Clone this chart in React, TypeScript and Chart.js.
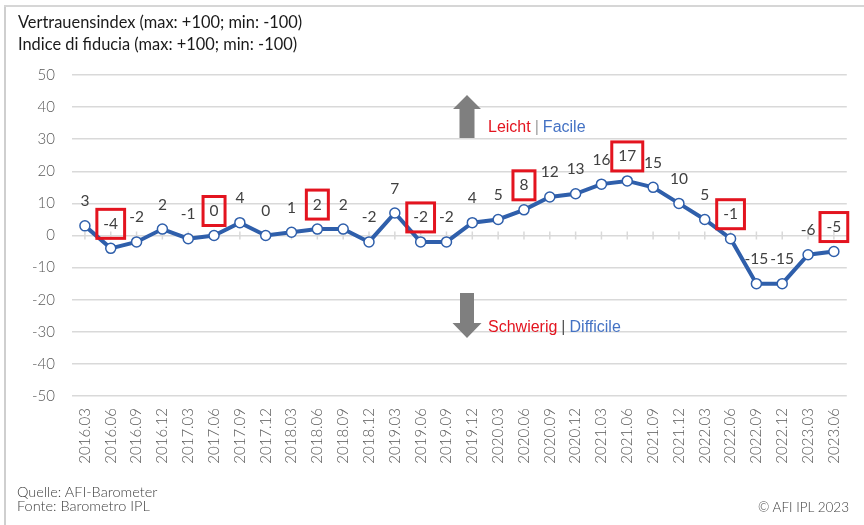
import React, { useEffect, useRef } from "react";
import { Chart, registerables } from "chart.js";

Chart.register(...registerables);

// ---------- data ----------
const categories = [
  "2016.03", "2016.06", "2016.09", "2016.12",
  "2017.03", "2017.06", "2017.09", "2017.12",
  "2018.03", "2018.06", "2018.09", "2018.12",
  "2019.03", "2019.06", "2019.09", "2019.12",
  "2020.03", "2020.06", "2020.09", "2020.12",
  "2021.03", "2021.06", "2021.09", "2021.12",
  "2022.03", "2022.06", "2022.09", "2022.12",
  "2023.03", "2023.06",
];
const confidenceIndex = [
  3, -4, -2, 2,
  -1, 0, 4, 0,
  1, 2, 2, -2,
  7, -2, -2, 4,
  5, 8, 12, 13,
  16, 17, 15, 10,
  5, -1, -15, -15,
  -6, -5,
];
const yMin = -50;
const yMax = 50;
const yStep = 10;
const titleLines = [
  "Vertrauensindex (max: +100; min: -100)",
  "Indice di fiducia (max: +100; min: -100)",
];
const sourceLines = ["Quelle: AFI-Barometer", "Fonte: Barometro IPL"];
const copyrightText = "© AFI IPL 2023";
const upLabels = ["Leicht", "Facile"];
const downLabels = ["Schwierig", "Difficile"];

// ---------- styles ----------
const LINE_BLUE = "#2f5fab";
const RED = "#e3141f";
const GRID = "#d9d9d9";
const TICK_COLOR = "#595959";
const LABEL_COLOR = "#404040";
const ARROW_GRAY = "#7f7f7f";
const FACILE_BLUE = "#4472c4";

const zeroTicksPlugin = {
  id: "zeroTicks",
  beforeDatasetsDraw(chart: any) {
    const { ctx, scales } = chart;
    const xs = scales.x;
    const y0 = scales.y.getPixelForValue(0);
    ctx.save();
    ctx.strokeStyle = GRID;
    ctx.lineWidth = 1.5;
    categories.forEach((_, i) => {
      const x = xs.getPixelForValue(i);
      ctx.beginPath();
      ctx.moveTo(x, y0 - 4);
      ctx.lineTo(x, y0 + 4);
      ctx.stroke();
    });
    ctx.restore();
  },
};

const arrowsPlugin = {
  id: "arrows",
  afterDraw(chart: any) {
    const { ctx } = chart;
    ctx.save();
    ctx.fillStyle = ARROW_GRAY;
    const cx = 467;
    // up arrow
    ctx.beginPath();
    ctx.moveTo(cx, 95);
    ctx.lineTo(cx + 14, 109);
    ctx.lineTo(cx + 7.5, 109);
    ctx.lineTo(cx + 7.5, 138);
    ctx.lineTo(cx - 7.5, 138);
    ctx.lineTo(cx - 7.5, 109);
    ctx.lineTo(cx - 14, 109);
    ctx.closePath();
    ctx.fill();
    // down arrow
    ctx.beginPath();
    ctx.moveTo(cx - 7, 293);
    ctx.lineTo(cx + 7, 293);
    ctx.lineTo(cx + 7, 323);
    ctx.lineTo(cx + 14.5, 323);
    ctx.lineTo(cx, 338);
    ctx.lineTo(cx - 14.5, 323);
    ctx.lineTo(cx - 7, 323);
    ctx.closePath();
    ctx.fill();
    ctx.restore();
  },
};

const valueLabelsPlugin = {
  id: "valueLabels",
  afterDatasetsDraw(chart: any) {
    const { ctx } = chart;
    const meta = chart.getDatasetMeta(0);
    ctx.save();
    ctx.font = "15.5px Lato, sans-serif";
    ctx.textAlign = "center";
    ctx.textBaseline = "middle";
    meta.data.forEach((pt: any, i: number) => {
      const text = String(confidenceIndex[i]);
      const x = pt.x;
      const y = pt.y - 24.5;
      ctx.fillStyle = LABEL_COLOR;
      ctx.fillText(text, x, y);
      if (categories[i].endsWith(".06")) {
        const w = ctx.measureText(text).width + 13;
        ctx.strokeStyle = RED;
        ctx.lineWidth = 3;
        ctx.strokeRect(x - w / 2, y - 14.5, w, 29);
      }
    });
    ctx.restore();
  },
};

export default function App() {
  const canvasRef = useRef<HTMLCanvasElement | null>(null);

  useEffect(() => {
    if (!canvasRef.current) return;
    const chart = new Chart(canvasRef.current, {
      type: "line",
      data: {
        labels: categories,
        datasets: [
          {
            data: confidenceIndex,
            borderColor: LINE_BLUE,
            borderWidth: 4,
            pointRadius: 5,
            pointBackgroundColor: "#ffffff",
            pointBorderColor: LINE_BLUE,
            pointBorderWidth: 1.5,
            tension: 0,
          },
        ],
      },
      options: {
        responsive: false,
        animation: false,
        devicePixelRatio: 1,
        layout: { padding: { left: 0, top: 75, right: 7, bottom: 0 } },
        plugins: {
          legend: { display: false },
          tooltip: { enabled: false },
          title: { display: false },
        },
        scales: {
          x: {
            type: "category",
            offset: true,
            grid: { display: false, drawTicks: false },
            border: { display: false },
            ticks: {
              autoSkip: false,
              maxRotation: 90,
              minRotation: 90,
              padding: 12,
              color: TICK_COLOR,
              font: { family: "Lato, sans-serif", size: 15, weight: 300 as any },
            },
            afterFit: (s: any) => {
              s.height = 129;
            },
          },
          y: {
            min: yMin,
            max: yMax,
            ticks: {
              stepSize: yStep,
              padding: 17,
              color: TICK_COLOR,
              font: { family: "Lato, sans-serif", size: 15, weight: 300 as any },
            },
            grid: { color: GRID, lineWidth: 1.5, drawTicks: false },
            border: { display: false },
            afterFit: (s: any) => {
              s.width = 72;
            },
          },
        },
      },
      plugins: [zeroTicksPlugin, valueLabelsPlugin, arrowsPlugin],
    });
    return () => chart.destroy();
  }, []);

  const abs = (extra: React.CSSProperties): React.CSSProperties => ({
    position: "absolute",
    whiteSpace: "nowrap",
    ...extra,
  });

  return (
    <div
      style={{
        position: "absolute",
        left: 0,
        top: 0,
        width: 864,
        height: 525,
        background: "#ffffff",
        overflow: "hidden",
      }}
    >
      <canvas ref={canvasRef} width={864} height={525} style={{ position: "absolute", left: 0, top: 0 }} />
      {/* frame */}
      <div style={abs({ left: 4, top: 5, width: 1.5, height: 520, background: "#cfcfcf" })} />
      <div style={abs({ left: 4, top: 5, width: 860, height: 1.5, background: "#d6d6d6" })} />
      {/* title */}
      <div
        style={abs({
          left: 18,
          top: 10.7,
          fontFamily: "Lato, sans-serif",
          fontSize: 16.4,
          lineHeight: "22px",
          color: "#1a1a1a",
        })}
      >
        {titleLines.map((t) => (
          <div key={t}>{t}</div>
        ))}
      </div>
      {/* arrow labels */}
      <div
        style={abs({
          left: 488,
          top: 116.5,
          fontFamily: "'Liberation Sans', Arial, sans-serif",
          fontSize: 16,
          lineHeight: "20px",
        })}
      >
        <span style={{ color: RED }}>{upLabels[0]}</span>
        <span style={{ color: "#a0a0a0", margin: "0 4px" }}>|</span>
        <span style={{ color: FACILE_BLUE }}>{upLabels[1]}</span>
      </div>
      <div
        style={abs({
          left: 488,
          top: 316.5,
          fontFamily: "'Liberation Sans', Arial, sans-serif",
          fontSize: 16,
          lineHeight: "20px",
        })}
      >
        <span style={{ color: RED }}>{downLabels[0]}</span>
        <span style={{ color: "#555555", margin: "0 4px" }}>|</span>
        <span style={{ color: FACILE_BLUE }}>{downLabels[1]}</span>
      </div>
      {/* source */}
      <div
        style={abs({
          left: 17,
          top: 485.4,
          fontFamily: "Lato, sans-serif",
          fontWeight: 300,
          fontSize: 14.5,
          lineHeight: "14px",
          color: "#404040",
        })}
      >
        {sourceLines.map((t) => (
          <div key={t}>{t}</div>
        ))}
      </div>
      <div
        style={abs({
          right: 864 - 849,
          top: 499,
          fontFamily: "Lato, sans-serif",
          fontWeight: 300,
          fontSize: 13.5,
          lineHeight: "16px",
          color: "#404040",
        })}
      >
        {copyrightText}
      </div>
    </div>
  );
}
